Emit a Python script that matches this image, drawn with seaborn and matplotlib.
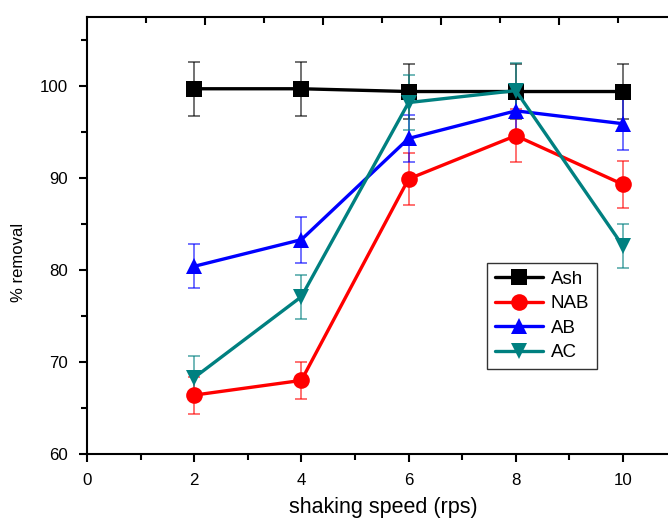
import numpy as np
import pandas as pd
import matplotlib
matplotlib.use("Agg")
import matplotlib.pyplot as plt
import seaborn as sns

speed = [2, 4, 6, 8, 10]
ash = [99.7, 99.7, 99.4, 99.4, 99.4]
ash_err = [2.95, 2.95, 2.95, 2.95, 2.95]
nab = [66.4, 68.0, 89.9, 94.6, 89.3]
nab_err = [2.0, 2.0, 2.8, 2.9, 2.6]
ab = [80.4, 83.3, 94.3, 97.3, 95.9]
ab_err = [2.4, 2.5, 2.6, 2.5, 2.9]
ac = [68.3, 77.1, 98.2, 99.5, 82.6]
ac_err = [2.3, 2.4, 3.0, 3.0, 2.4]
series = ["Ash", "NAB", "AB", "AC"]

sns.set_style("ticks")
plt.rcParams['font.family'] = ['Liberation Sans', 'DejaVu Sans']
plt.rcParams['text.color'] = 'black'
plt.rcParams['axes.labelcolor'] = 'black'
plt.rcParams['xtick.color'] = 'black'
plt.rcParams['ytick.color'] = 'black'
plt.rcParams['axes.edgecolor'] = 'black'

vals = {"Ash": (ash, ash_err), "NAB": (nab, nab_err), "AB": (ab, ab_err), "AC": (ac, ac_err)}
rows = []
for s in series:
    for x, y, e in zip(speed, vals[s][0], vals[s][1]):
        rows.append({"speed": x, "removal": y, "err": e, "series": s})
df = pd.DataFrame(rows)

colors = {"Ash": "#000000", "NAB": "#ff0000", "AB": "#0000ff", "AC": "#008080"}
markers = {"Ash": "s", "NAB": "o", "AB": "^", "AC": "v"}

fig = plt.figure(figsize=(6.68, 5.21), dpi=100)
ax = fig.add_axes([87/668, 1-454/521, 1-87/668, (454-17)/521])

for s in series:
    d = df[df.series == s]
    ax.errorbar(d.speed, d.removal, yerr=d.err, fmt="none", ecolor=colors[s],
                alpha=0.65, elinewidth=1.2, capsize=4, capthick=1.2, zorder=2)

sns.lineplot(data=df, x="speed", y="removal", hue="series", style="series",
             palette=colors, markers=markers, dashes=False, linewidth=2.4,
             markersize=12, markeredgewidth=0, ax=ax, zorder=3, legend=True)

ax.set_xlim(0, 10.84)
ax.set_ylim(60, 107.5)
ax.set_xticks([0, 2, 4, 6, 8, 10])
ax.set_xticks([1, 3, 5, 7, 9], minor=True)
ax.set_yticks([60, 70, 80, 90, 100])
ax.set_yticks([65, 75, 85, 95, 105], minor=True)
ax.tick_params(axis="both", which="major", direction="out", length=6, width=1.5,
               labelsize=12.2, pad=8)
ax.tick_params(axis="both", which="minor", direction="out", length=4, width=1.5)
for sp in ["left", "bottom", "top"]:
    ax.spines[sp].set_linewidth(1.5)
ax.spines["right"].set_visible(False)

top = ax.twiny()
top.set_xlim(ax.get_xlim())
top.set_xticks([2.2, 4.4, 6.6, 8.8])
top.set_xticks([1.1, 3.3, 5.5, 7.7, 9.9], minor=True)
top.set_xticklabels([])
top.tick_params(axis="x", which="major", direction="in", length=6, width=1.5)
top.tick_params(axis="x", which="minor", direction="in", length=4, width=1.5)
for sp in top.spines.values():
    sp.set_visible(False)

ax.set_xlabel("shaking speed (rps)", fontsize=15.5)
ax.xaxis.set_label_coords((383-87)/581, (454-508)/437)
ax.xaxis.label.set_va("center")
ax.set_ylabel("% removal", fontsize=12)
ax.yaxis.set_label_coords((19-87)/581, (454-262)/437)
ax.yaxis.label.set_va("center")

h, l = ax.get_legend_handles_labels()
leg = ax.legend(h, l, loc="upper left", bbox_to_anchor=((487-87)/581, 1-(263-17)/437),
                frameon=True, fancybox=False, edgecolor="black", fontsize=13.5,
                handlelength=2.6, labelspacing=0.4, borderpad=0.4, handletextpad=0.4,
                borderaxespad=0)
leg.get_frame().set_linewidth(1.0)

fig.savefig("out.png", dpi=100)
